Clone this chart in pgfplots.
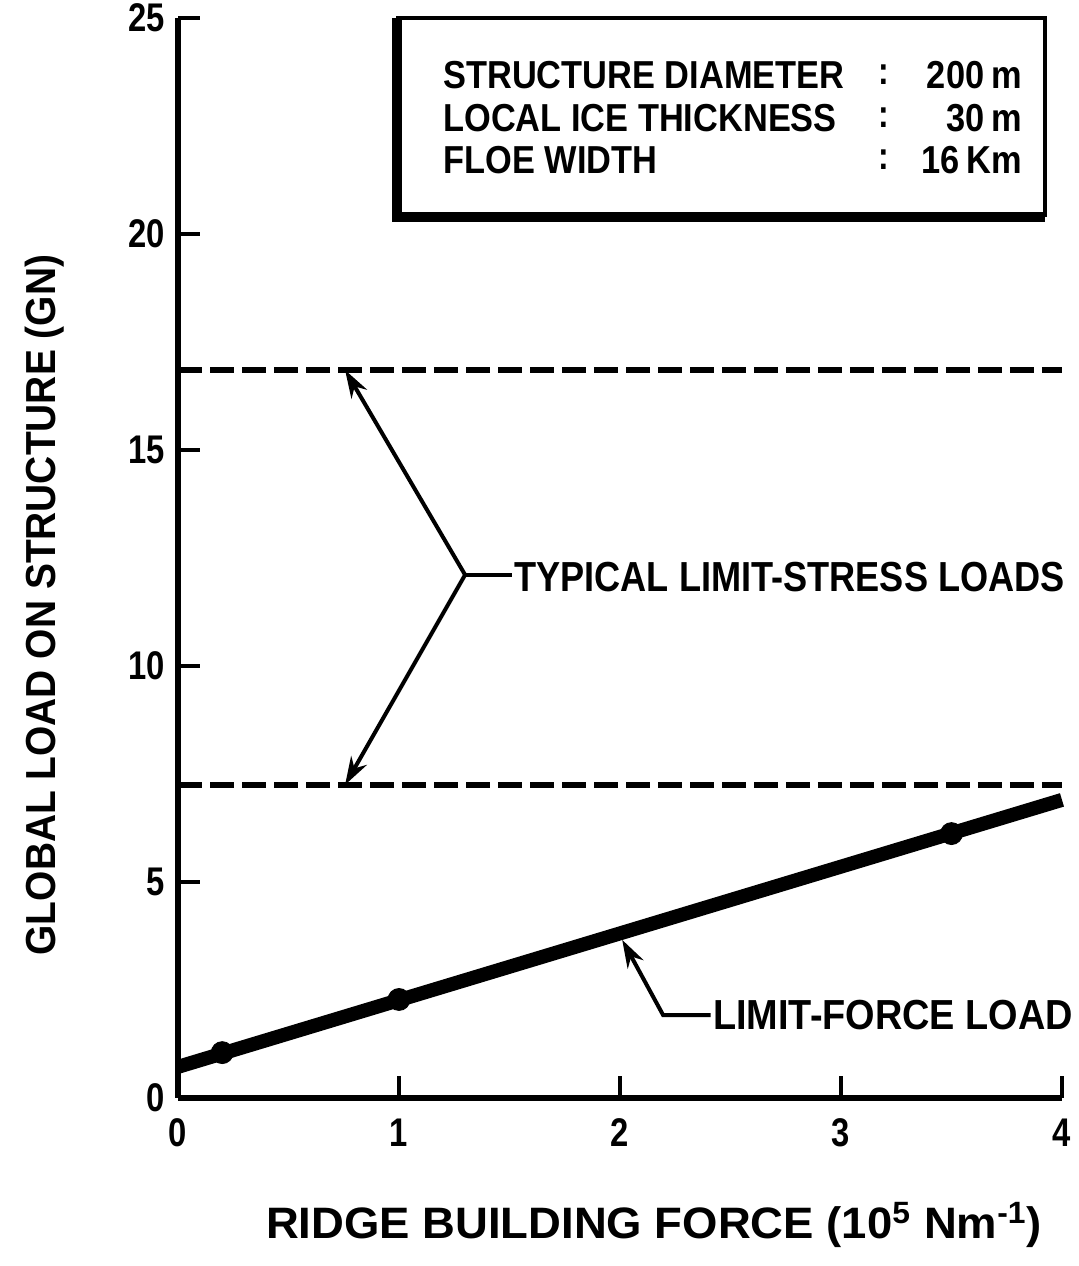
\documentclass[border=0pt]{standalone}
\usepackage{fontspec}
\setmainfont[FakeStretch=0.82]{Liberation Sans}
\usepackage{pgfplots}
\pgfplotsset{compat=1.18}
\usetikzlibrary{arrows.meta}
\begin{document}
\begin{tikzpicture}
\begin{axis}[
 scale only axis, width=442pt, height=540pt,
 xmin=0,xmax=4,ymin=0,ymax=25,
 axis x line=bottom, axis y line=left,
 axis line style={line width=3pt,-},
 xtick={0,1,2,3,4}, ytick={0,5,10,15,20,25},
 tick align=inside,
 major tick length=11pt,
 tick style={line width=2pt,black},
 /pgf/number format/assume math mode=true,
 ticklabel style={font=\fontsize{20}{24}\selectfont\bfseries},
 xticklabel style={yshift=-7pt},
 yticklabel style={xshift=-3pt},
 clip=false,
]
\coordinate (ll) at (rel axis cs:-0.2014,-0.1556);
\coordinate (ur) at (rel axis cs:1.0192,1.0167);
\addplot[line width=3pt, black, dash pattern=on 12pt off 4pt] coordinates {(0,16.85)(4,16.85)};
\addplot[line width=3pt, black, dash pattern=on 12pt off 4pt] coordinates {(0,7.25)(4,7.25)};
\addplot[line width=7pt, black] coordinates {(0,0.72)(4,6.9)};
\addplot[only marks, mark=*, mark size=5.5pt, black] coordinates {(0.2,1.05)(1,2.28)(3.5,6.12)};
% annotations
\draw[line width=2pt, -{Stealth[length=14pt,width=9pt]}] (axis cs:1.299,12.11) -- (axis cs:0.756,16.85);
\draw[line width=2pt, -{Stealth[length=14pt,width=9pt]}] (axis cs:1.299,12.11) -- (axis cs:0.756,7.25);
\draw[line width=2pt] (axis cs:1.299,12.11) -- (axis cs:1.51,12.11);
\node[anchor=west, inner sep=0pt, font=\fontsize{21}{24}\selectfont\bfseries] at (axis cs:1.52,12.05) {\scalebox{1.05}[1]{TYPICAL LIMIT-STRESS LOADS}};
\draw[line width=2pt, -{Stealth[length=14pt,width=9pt]}] (axis cs:2.41,1.92) -- (axis cs:2.195,1.92) -- (axis cs:2.01,3.66);
\node[anchor=west, inner sep=0pt, font=\fontsize{21}{24}\selectfont\bfseries] at (axis cs:2.42,1.92) {\scalebox{1.1}[1]{LIMIT-FORCE LOAD}};
% box
\draw[line width=2pt, fill=white] (axis cs:0.995,20.44) rectangle (axis cs:3.923,25);
\draw[line width=5pt] (axis cs:0.99,25) -- (axis cs:0.99,20.40) -- (axis cs:3.923,20.40);
\begin{scope}[every node/.style={inner sep=0pt, font=\fontsize{19.5}{22}\selectfont\bfseries}]
\node[anchor=west] at (axis cs:1.199,23.68) {\scalebox{1.075}[1]{STRUCTURE DIAMETER}};
\node[anchor=west] at (axis cs:1.199,22.69) {\scalebox{1.075}[1]{LOCAL ICE THICKNESS}};
\node[anchor=west] at (axis cs:1.199,21.71) {\scalebox{1.075}[1]{FLOE WIDTH}};
\node at (axis cs:3.195,23.68) {:};
\node at (axis cs:3.195,22.69) {:};
\node at (axis cs:3.195,21.71) {:};
\node[anchor=east] at (axis cs:3.82,23.68) {\scalebox{1.075}[1]{200\,m}};
\node[anchor=east] at (axis cs:3.82,22.69) {\scalebox{1.075}[1]{30\,m}};
\node[anchor=east] at (axis cs:3.82,21.71) {\scalebox{1.075}[1]{16\,Km}};
\end{scope}
% axis labels
\node[rotate=90, inner sep=0pt, font=\fontsize{21}{24}\selectfont\bfseries] at (axis cs:-0.602,11.41) {\scalebox{1.13}[1]{GLOBAL LOAD ON STRUCTURE (GN)}};
\node[inner sep=0pt, font=\fontsize{22}{26}\selectfont\bfseries] at (axis cs:2.154,-2.94) {\scalebox{1.26}[1]{RIDGE BUILDING FORCE (10\textsuperscript{5} Nm\textsuperscript{-1})}};
\end{axis}
\pgfresetboundingbox
\path[use as bounding box] (ll) rectangle (ur);
\end{tikzpicture}
\end{document}
